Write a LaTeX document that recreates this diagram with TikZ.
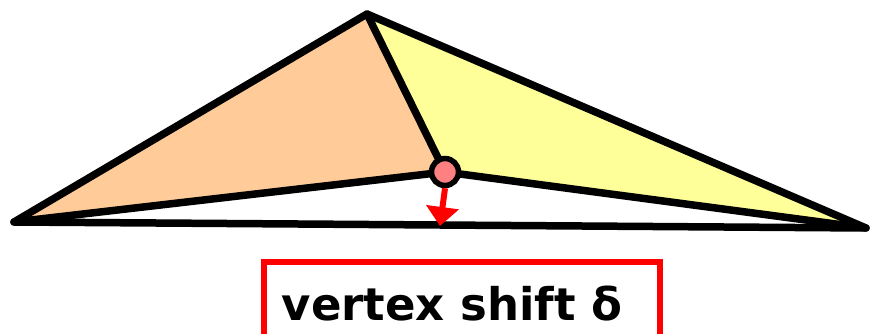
\documentclass[tikz,border=0pt]{standalone}
\usepackage{fontspec}
\setsansfont{DejaVu Sans}
\usetikzlibrary{arrows.meta,positioning}
\definecolor{meshorange}{RGB}{255,204,153}
\definecolor{meshyellow}{RGB}{255,255,153}
\definecolor{vtxred}{RGB}{255,128,128}
\begin{document}
\begin{tikzpicture}[x=1pt,y=-1pt,
  edge/.style={line width=7.5pt, line join=round, line cap=round},
  vtx/.style={circle, draw, line width=5.5pt, fill=vtxred, minimum size=27pt, inner sep=0pt},
  shiftarr/.style={-{Triangle[length=19pt,width=32pt]}, draw=red, fill=red, line width=6pt},
  tag/.style={draw=red, line width=5.5pt, fill=white, minimum width=396pt, minimum height=84pt, inner sep=0pt,
    font=\sffamily\bfseries\fontsize{45}{50}\selectfont}
]
  \clip (0,0) rectangle (870,334);
  \useasboundingbox (0,0) rectangle (870,334);
  % mesh vertices
  \coordinate (left)  at (14,222);
  \coordinate (top)   at (367,14);
  \coordinate (right) at (866,228);
  \coordinate (mid)   at (445,172);
  \coordinate (foot)  at (440,226);
  % faces
  \fill[meshorange] (left) -- (top) -- (mid) -- cycle;
  \fill[meshyellow] (top) -- (right) -- (mid) -- cycle;
  % edges
  \draw[edge] (left) -- (top) -- (right) -- cycle;
  \draw[edge] (left) -- (mid) -- (right);
  \draw[edge] (top) -- (mid);
  \node[vtx] (v) at (mid) {};
  \draw[shiftarr] (v.south) -- (foot);
  % label
  \node[tag] (shift) at (462,304) {\hspace{-20pt}vertex shift δ};
\end{tikzpicture}
\end{document}
